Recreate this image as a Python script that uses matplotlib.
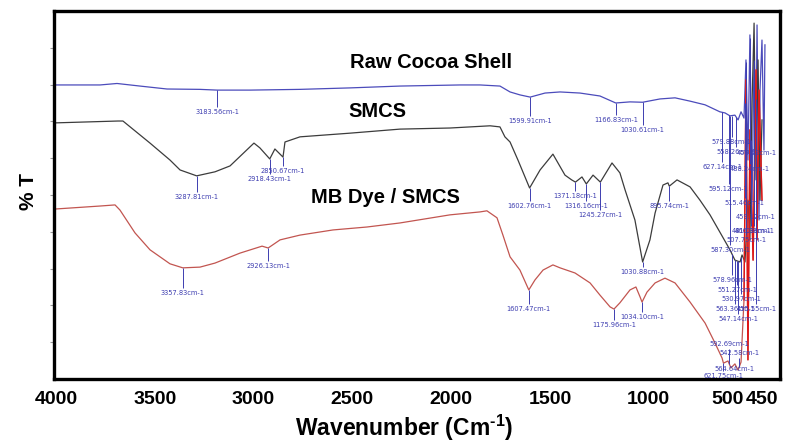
import matplotlib
import matplotlib.pyplot as plt
import matplotlib.transforms as mtransforms
import numpy as np

matplotlib.use("Agg")

plt.rcParams["font.family"] = ["Liberation Sans", "DejaVu Sans"]
plt.rcParams["mathtext.fontset"] = "custom"
plt.rcParams["mathtext.rm"] = "Liberation Sans:bold"
plt.rcParams["mathtext.bf"] = "Liberation Sans:bold"

# FTIR spectra (wavenumber in cm-1, offset transmittance)
raw_wn = [4000, 3777, 3691, 3575, 3438, 3271, 3184, 3018, 2765, 2512,
          2259, 1955, 1854, 1753, 1702, 1652, 1600, 1525, 1449, 1348,
          1247, 1167, 1095, 1031, 943, 867, 791, 715, 640, 614,
          589, 564, 548, 533, 518, 508, 498, 488, 477, 467,
          457, 452, 442, 437, 427, 417, 412]
raw_t = [79.9, 79.9, 80.3, 79.6, 78.8, 78.7, 78.5, 78.5, 78.7, 79.1,
         79.6, 79.9, 79.9, 79.6, 78.0, 77.2, 76.6, 77.7, 78.0, 77.7,
         76.9, 75.0, 75.3, 75.2, 76.1, 76.4, 75.5, 74.5, 72.6, 72.3,
         71.5, 71.7, 70.4, 72.6, 70.9, 86.7, 59.5, 93.5, 48.6, 88.0,
         67.7, 96.2, 43.2, 78.5, 92.1, 62.2, 90.8]

smcs_wn = [4000, 3686, 3661, 3524, 3423, 3372, 3288, 3195, 3119, 2998,
           2968, 2918, 2892, 2851, 2841, 2765, 2512, 2259, 2006, 1803,
           1753, 1728, 1702, 1662, 1603, 1550, 1485, 1424, 1390, 1371,
           1338, 1316, 1282, 1245, 1186, 1146, 1120, 1070, 1031, 994,
           968, 928, 903, 896, 857, 791, 741, 690, 640, 589,
           564, 538, 528, 513, 498, 488, 477, 467, 457, 447,
           437, 427]
smcs_t = [69.6, 70.1, 70.1, 64.1, 59.5, 56.8, 55.2, 56.3, 57.9, 64.1,
          62.8, 59.8, 62.5, 60.3, 64.4, 65.8, 66.8, 67.9, 68.2, 68.8,
          68.5, 65.8, 64.4, 59.5, 51.9, 56.8, 61.1, 55.4, 54.1, 53.5,
          54.9, 53.0, 55.4, 53.5, 58.7, 56.0, 51.4, 43.2, 31.8, 37.8,
          45.1, 52.7, 53.3, 52.4, 54.1, 52.2, 48.6, 44.6, 39.9, 35.1,
          32.3, 31.8, 33.7, 31.8, 48.6, 37.8, 75.8, 96.7, 54.1, 86.7,
          48.6, 70.4]

mb_wn = [4000, 3777, 3701, 3676, 3600, 3524, 3423, 3358, 3271, 3195,
         3069, 2957, 2926, 2866, 2765, 2598, 2426, 2259, 2006, 1854,
         1819, 1768, 1738, 1702, 1652, 1607, 1576, 1535, 1485, 1449,
         1373, 1297, 1247, 1196, 1176, 1146, 1095, 1065, 1044, 1034,
         1009, 968, 918, 867, 791, 715, 665, 629, 622, 599,
         584, 564, 548, 533, 518, 508, 498, 488, 472, 457,
         452, 442, 427]
mb_t = [46.2, 47.0, 47.3, 45.9, 39.7, 35.1, 31.3, 30.2, 30.4, 31.5,
        34.2, 36.1, 35.6, 37.8, 39.1, 40.5, 41.3, 42.4, 44.6, 45.4,
        45.7, 43.8, 39.1, 33.2, 29.6, 24.2, 26.9, 29.6, 31.0, 30.2,
        28.8, 26.1, 22.8, 19.6, 19.0, 20.7, 24.2, 25.0, 22.3, 20.9,
        23.6, 26.1, 27.4, 26.1, 20.9, 15.2, 9.8, 5.7, 4.3, 4.9,
        3.0, 4.1, 2.4, 4.6, 21.5, 81.3, 5.2, 67.7, 32.3, 84.0,
        37.8, 78.5, 48.6]

# peak marks: (wavenumber, height of the label)
raw_marks = [(3183.56, 72.6), (1599.91, 70.1), (1166.83, 70.4), (1030.61, 67.7),
             (579.88, 64.4), (558.26, 61.7), (455.52, 61.4), (627.14, 57.6),
             (488.24, 57.1), (595.12, 51.6), (515.46, 47.8), (459.12, 44.0),
             (481.03, 40.2), (466.38, 40.2), (507.75, 37.8), (587.30, 35.1)]
smcs_marks = [(3287.81, 49.5), (2918.43, 54.3), (2850.67, 56.5), (1602.76, 47.0),
              (1371.18, 49.7), (1316.16, 47.0), (1245.27, 44.6), (895.74, 47.0),
              (1030.88, 29.1), (578.96, 26.9), (551.27, 24.2), (530.97, 21.7),
              (563.36, 19.0), (455.55, 19.0), (547.14, 16.3)]
mb_marks = [(3357.83, 23.4), (2926.13, 30.7), (1607.47, 19.0), (1175.96, 14.7),
            (1034.10, 16.8), (592.69, 9.5), (542.58, 7.1), (564.64, 2.7),
            (621.75, 0.8)]

tick_values = [4000, 3500, 3000, 2500, 2000, 1500, 1000, 500, 450]

MARK_COLOR = "#3d3db0"

fig = plt.figure(figsize=(7.88, 4.43), dpi=100)
ax = fig.add_axes([0.0685, 0.1445, 0.9213, 0.8307])

ax.plot(raw_wn, raw_t, color="#4b4bbb", lw=0.9)
ax.plot(smcs_wn, smcs_t, color="#3c3c3c", lw=0.9)
ax.plot(mb_wn, mb_t, color="#c25550", lw=0.9)
# the low wavenumber end of the dye spectrum is drawn brighter
mb_wn_arr = np.array(mb_wn)
low = mb_wn_arr <= 530
ax.plot(mb_wn_arr[low], np.array(mb_t)[low], color="#e01515", lw=1.0)


def draw_marks(wn, t, marks):
    wn_r = np.array(wn)[::-1]
    t_r = np.array(t)[::-1]
    for pos, lab_t in marks:
        cur = np.interp(pos, wn_r, t_r)
        if cur > lab_t:
            ax.vlines(pos, lab_t + 1.3, cur, color=MARK_COLOR, lw=0.7)
        else:
            ax.vlines(pos, cur, lab_t - 1.3, color=MARK_COLOR, lw=0.7)
        ax.text(pos, lab_t, f"{pos:.2f}cm-1", ha="center", va="center",
                fontsize=4.8, color=MARK_COLOR, family="DejaVu Sans",
                clip_on=True)


draw_marks(raw_wn, raw_t, raw_marks)
draw_marks(smcs_wn, smcs_t, smcs_marks)
draw_marks(mb_wn, mb_t, mb_marks)

# curve names
ax.text(0.519, 0.859, "Raw Cocoa Shell", transform=ax.transAxes, ha="center",
        va="center", fontsize=14.5, fontweight="bold")
ax.text(0.445, 0.726, "SMCS", transform=ax.transAxes, ha="center",
        va="center", fontsize=14.5, fontweight="bold")
ax.text(0.457, 0.492, "MB Dye / SMCS", transform=ax.transAxes, ha="center",
        va="center", fontsize=14.5, fontweight="bold")

ax.set_xlim(4010, 336)
ax.set_ylim(0, 100)

ax.set_xticks(tick_values)
ax.set_xticklabels([str(v) for v in tick_values], fontsize=14, fontweight="bold")
ax.tick_params(axis="x", length=0, pad=9)
labels = ax.get_xticklabels()
labels[-2].set_transform(labels[-2].get_transform()
                         + mtransforms.ScaledTranslation(-0.2, 0, fig.dpi_scale_trans))
labels[-1].set_transform(labels[-1].get_transform()
                         + mtransforms.ScaledTranslation(0.05, 0, fig.dpi_scale_trans))

ax.set_yticks(np.arange(10, 100, 10))
ax.set_yticklabels([])
ax.tick_params(axis="y", length=3, width=0.8, color="#999999")

for sp in ax.spines.values():
    sp.set_linewidth(2.4)

ax.set_xlabel(r"Wavenumber (Cm$^{\text{-1}}$)", fontsize=16.5, fontweight="bold")
ax.xaxis.set_label_coords(0.482, -0.092)
ax.set_ylabel("% T", fontsize=15, fontweight="bold")
ax.yaxis.set_label_coords(-0.022, 0.51)

fig.savefig("out.png", dpi=100)
